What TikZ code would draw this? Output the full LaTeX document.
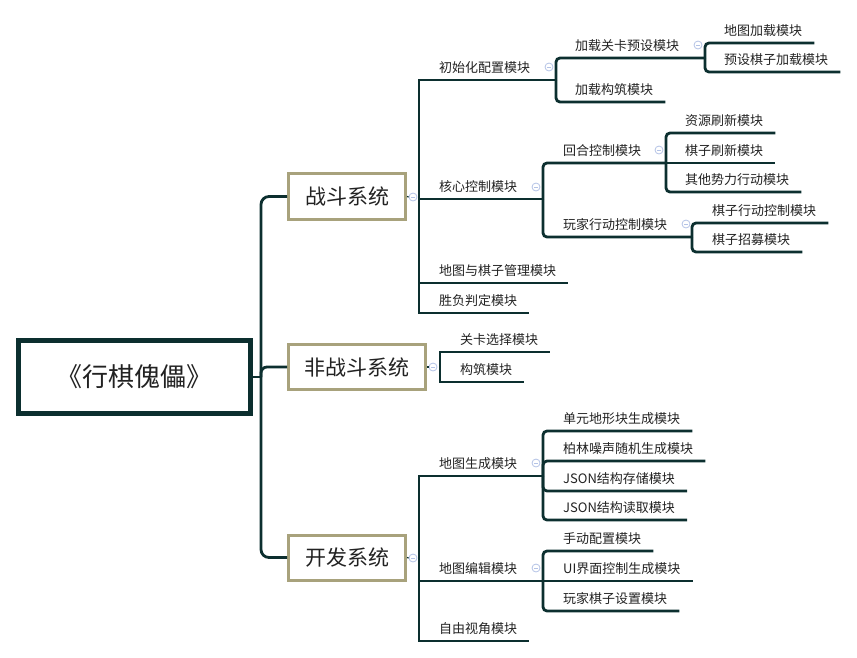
\documentclass[tikz,border=0pt]{standalone}
\usepackage{fontspec}
\setmainfont{Noto Sans CJK SC}
\usetikzlibrary{calc}
\definecolor{lineC}{HTML}{0C2F2F}
\definecolor{tanC}{HTML}{A8A27C}
\definecolor{foldC}{HTML}{B4C3E6}
\definecolor{txtC}{HTML}{222222}
\begin{document}
\begin{tikzpicture}[x=1pt,y=-1pt,
  conn/.style={draw=lineC, line width=2.8pt},
  rconn/.style={conn, rounded corners=4pt},
  item/.style={anchor=south west, inner xsep=0pt, inner ysep=0pt, minimum height=25pt, text=txtC, font=\fontsize{13}{15}\selectfont},
  l1box/.style={draw=tanC, line width=3pt, fill=white, text=txtC, font=\fontsize{21}{24}\selectfont, inner sep=0pt},
  rootbox/.style={draw=lineC, line width=5pt, fill=white, text=txtC, font=\fontsize{26}{30}\selectfont, inner sep=0pt},
  fold/.style={circle, draw=foldC, fill=white, line width=0.8pt, minimum size=8pt, inner sep=0pt,
    path picture={\draw[foldC, line width=0.8pt] ([xshift=-2pt]path picture bounding box.center) -- ([xshift=2pt]path picture bounding box.center);}},
  dotc/.style={draw=lineC, line width=1.2pt}
]
\useasboundingbox (0,0) rectangle (857,657);

% root
\node[rootbox, minimum width=232pt, minimum height=73pt] (root) at (134.5,377) {《行棋傀儡》};
\node[l1box, minimum width=117pt, minimum height=46pt] (b1) at (347,196.5) {战斗系统};
\node[l1box, minimum width=137pt, minimum height=45pt] (b2) at (357,367) {非战斗系统};
\node[l1box, minimum width=117pt, minimum height=45pt] (b3) at (347,557.5) {开发系统};

\coordinate (rj) at (261,377);
\draw[conn] (root.east) -- (rj);
\draw[conn, rounded corners=8pt] (rj) |- (b1.west);
\draw[conn, rounded corners=6pt] (rj) |- (b2.west);
\draw[conn, rounded corners=8pt] (rj) |- (b3.west);

% ---------- 战斗系统 ----------
\node[fold] (f1) at (413,197) {};
\draw[dotc] (b1.east) -- (f1.west);
\coordinate (j1) at (419,197);

\node[item] (n11) at (439,80) {初始化配置模块};
\coordinate (j11) at (556,80);
\draw[conn] (j1) |- (j11);
\node[fold] (f11) at (549,67) {};

\node[item] (n111) at (575,58) {加载关卡预设模块};
\coordinate (j111) at (705,58);
\draw[rconn] (j11) |- (j111);
\node[fold] (f111) at (698,45) {};
\node[item] (n1111) at (724,43) {地图加载模块};
\draw[rconn] (j111) |- ($(n1111.south east)+(12,0)$);
\node[item] (n1112) at (724,72) {预设棋子加载模块};
\draw[rconn] (j111) |- ($(n1112.south east)+(12,0)$);

\node[item] (n112) at (575,102) {加载构筑模块};
\draw[rconn] (j11) |- ($(n112.south east)+(12,0)$);

\node[item] (n12) at (439,199) {核心控制模块};
\coordinate (j12) at (543,199);
\draw[conn] (j1) |- (j12);
\node[fold] (f12) at (536,187) {};

\node[item] (n121) at (563,163) {回合控制模块};
\coordinate (j121) at (666,163);
\draw[rconn] (j12) |- (j121);
\node[fold] (f121) at (659,150) {};
\node[item] (n1211) at (685,133) {资源刷新模块};
\draw[rconn] (j121) |- ($(n1211.south east)+(12,0)$);
\node[item] (n1212) at (685,163) {棋子刷新模块};
\draw[conn] (j121) -- ($(n1212.south east)+(12,0)$);
\node[item] (n1213) at (685,192) {其他势力行动模块};
\draw[rconn] (j121) |- ($(n1213.south east)+(12,0)$);

\node[item] (n122) at (563,237) {玩家行动控制模块};
\coordinate (j122) at (692,237);
\draw[rconn] (j12) |- (j122);
\node[fold] (f122) at (686,224) {};
\node[item] (n1221) at (712,223) {棋子行动控制模块};
\draw[rconn] (j122) |- ($(n1221.south east)+(12,0)$);
\node[item] (n1222) at (712,252) {棋子招募模块};
\draw[rconn] (j122) |- ($(n1222.south east)+(12,0)$);

\node[item] (n13) at (439,283) {地图与棋子管理模块};
\draw[conn] (j1) |- ($(n13.south east)+(12,0)$);
\node[item] (n14) at (439,313) {胜负判定模块};
\draw[conn] (j1) |- ($(n14.south east)+(12,0)$);

% ---------- 非战斗系统 ----------
\node[fold] (f2) at (433,367) {};
\draw[dotc] (b2.east) -- (f2.west);
\coordinate (j2) at (440,367);
\node[item] (n21) at (460,352) {关卡选择模块};
\draw[conn] (j2) |- ($(n21.south east)+(12,0)$);
\node[item] (n22) at (460,382) {构筑模块};
\draw[conn] (j2) |- ($(n22.south east)+(12,0)$);

% ---------- 开发系统 ----------
\node[fold] (f3) at (413,558) {};
\draw[dotc] (b3.east) -- (f3.west);
\coordinate (j3) at (419,558);

\node[item] (n31) at (439,476) {地图生成模块};
\coordinate (j31) at (543,476);
\draw[conn] (j3) |- (j31);
\node[fold] (f31) at (536,463) {};
\node[item] (n311) at (563,431) {单元地形块生成模块};
\draw[rconn] (j31) |- ($(n311.south east)+(12,0)$);
\node[item] (n312) at (563,461) {柏林噪声随机生成模块};
\draw[rconn] (j31) |- ($(n312.south east)+(12,0)$);
\node[item] (n313) at (563,491) {JSON结构存储模块};
\draw[rconn] (j31) |- ($(n313.south east)+(12,0)$);
\node[item] (n314) at (563,520) {JSON结构读取模块};
\draw[rconn] (j31) |- ($(n314.south east)+(12,0)$);

\node[item] (n32) at (439,581) {地图编辑模块};
\coordinate (j32) at (543,581);
\draw[conn] (j3) |- (j32);
\node[fold] (f32) at (536,568) {};
\node[item] (n321) at (563,551) {手动配置模块};
\draw[rconn] (j32) |- ($(n321.south east)+(12,0)$);
\node[item] (n322) at (563,581) {UI界面控制生成模块};
\draw[conn] (j32) -- ($(n322.south east)+(12,0)$);
\node[item] (n323) at (563,611) {玩家棋子设置模块};
\draw[rconn] (j32) |- ($(n323.south east)+(12,0)$);

\node[item] (n33) at (439,641) {自由视角模块};
\draw[conn] (j3) |- ($(n33.south east)+(12,0)$);
\end{tikzpicture}
\end{document}
